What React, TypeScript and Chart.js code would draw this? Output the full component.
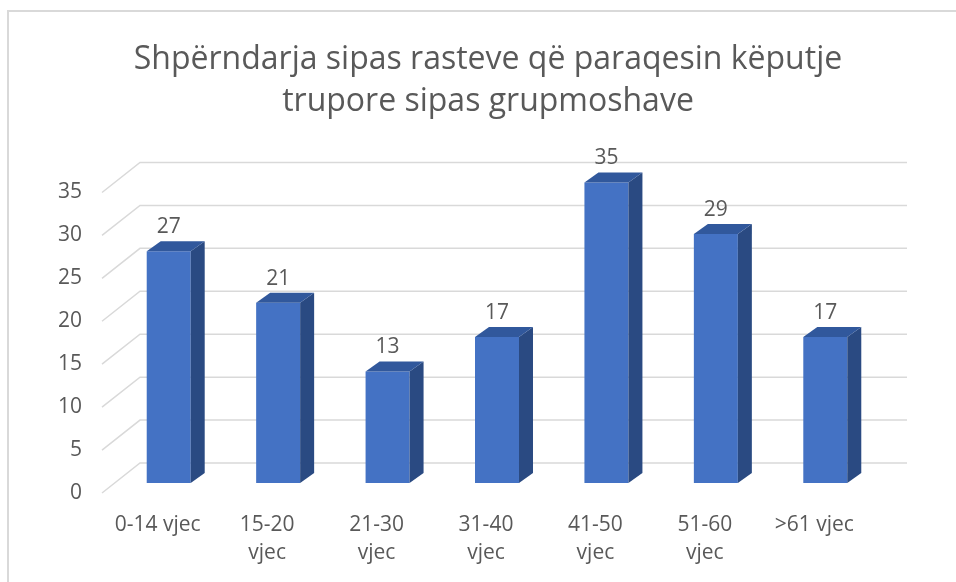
import React, { useEffect, useRef } from "react";
import { Chart, registerables } from "chart.js";

Chart.register(...registerables);

const TITLE_LINES = ["Shpërndarja sipas rasteve që paraqesin këputje", "trupore sipas grupmoshave"];
const CATEGORIES: (string | string[])[] = [
  "0-14 vjec",
  ["15-20", "vjec"],
  ["21-30", "vjec"],
  ["31-40", "vjec"],
  ["41-50", "vjec"],
  ["51-60", "vjec"],
  ">61 vjec",
];
const VALUES = [27, 21, 13, 17, 35, 29, 17];
const Y_MIN = 0;
const Y_MAX = 35;
const Y_STEP = 5;

const FONT = "'Open Sans', 'Noto Sans', sans-serif";
const TEXT = "#595959";
const GRID = "#d9d9d9";
const FRONT = "#4472c4";
const SIDE = "#2a4a82";
const TOP = "#31589c";
const DEPTH_X = 14;
const DEPTH_Y = 10;

const threeD = {
  id: "threeD",
  beforeDraw(chart: any) {
    const ctx = chart.ctx;
    ctx.save();
    ctx.strokeStyle = GRID;
    ctx.lineWidth = 2;
    ctx.beginPath();
    ctx.moveTo(8, 582);
    ctx.lineTo(8, 11);
    ctx.lineTo(956, 11);
    ctx.stroke();
    ctx.restore();
  },
  beforeDatasetsDraw(chart: any) {
    const ctx = chart.ctx;
    const y = chart.scales.y;
    const area = chart.chartArea;
    ctx.save();
    ctx.strokeStyle = GRID;
    ctx.lineWidth = 1.5;
    y.ticks.forEach((t: any) => {
      const py = y.getPixelForValue(t.value);
      ctx.beginPath();
      ctx.moveTo(area.left - 12, py + 10);
      ctx.lineTo(area.left + 26, py - 20);
      ctx.lineTo(area.right + 27, py - 20);
      ctx.stroke();
    });
    ctx.restore();
  },
  afterDatasetsDraw(chart: any) {
    const ctx = chart.ctx;
    const meta = chart.getDatasetMeta(0);
    const data = chart.data.datasets[0].data;
    ctx.save();
    meta.data.forEach((bar: any, i: number) => {
      const { x, y, base, width } = bar.getProps(["x", "y", "base", "width"], true);
      const l = x - width / 2;
      const r = x + width / 2;
      ctx.fillStyle = SIDE;
      ctx.beginPath();
      ctx.moveTo(r, y);
      ctx.lineTo(r + DEPTH_X, y - DEPTH_Y);
      ctx.lineTo(r + DEPTH_X, base - DEPTH_Y);
      ctx.lineTo(r, base);
      ctx.closePath();
      ctx.fill();
      ctx.fillStyle = TOP;
      ctx.beginPath();
      ctx.moveTo(l, y);
      ctx.lineTo(l + DEPTH_X, y - DEPTH_Y);
      ctx.lineTo(r + DEPTH_X, y - DEPTH_Y);
      ctx.lineTo(r, y);
      ctx.closePath();
      ctx.fill();
      ctx.fillStyle = TEXT;
      ctx.font = `21px ${FONT}`;
      ctx.textAlign = "center";
      ctx.textBaseline = "middle";
      ctx.fillText(String(data[i]), x, y - 24);
    });
    ctx.restore();
  },
};

export default function App() {
  const ref = useRef<HTMLCanvasElement>(null);
  useEffect(() => {
    if (!ref.current) return;
    const chart = new Chart(ref.current, {
      type: "bar",
      data: {
        labels: CATEGORIES,
        datasets: [
          {
            data: VALUES,
            backgroundColor: FRONT,
            borderWidth: 0,
            barPercentage: 0.402,
            categoryPercentage: 1,
            clip: false as any,
          },
        ],
      },
      options: {
        responsive: false,
        animation: false,
        devicePixelRatio: 1,
        layout: { padding: { left: 20, right: 0, top: 0, bottom: 0 } },
        plugins: {
          legend: { display: false },
          tooltip: { enabled: false },
          title: {
            display: true,
            text: TITLE_LINES,
            color: TEXT,
            font: { family: FONT, size: 32, weight: "normal", lineHeight: 1.32 },
            padding: { top: 39, bottom: 59 },
          },
        },
        scales: {
          x: {
            grid: { display: false, drawTicks: false },
            border: { display: false },
            ticks: {
              color: TEXT,
              font: { family: FONT, size: 21, lineHeight: 1.33 },
              padding: 28,
              labelOffset: -11,
              maxRotation: 0,
              autoSkip: false,
            },
            afterFit: (s: any) => {
              s.height = 99;
            },
          },
          y: {
            min: Y_MIN,
            max: Y_MAX,
            grid: { display: false, drawTicks: false },
            border: { display: false },
            ticks: {
              stepSize: Y_STEP,
              color: TEXT,
              font: { family: FONT, size: 21 },
              padding: 32,
              labelOffset: 10,
            },
            afterFit: (s: any) => {
              s.width = 94;
            },
          },
          yRight: {
            type: "linear",
            position: "right",
            display: true,
            grid: { display: false, drawTicks: false },
            border: { display: false },
            ticks: { display: false },
            afterFit: (s: any) => {
              s.width = 76;
            },
          },
        },
      },
      plugins: [threeD],
    });
    return () => chart.destroy();
  }, []);
  return (
    <div style={{ position: "absolute", left: 0, top: 0, width: 956, height: 582, background: "#fff" }}>
      <canvas ref={ref} width={956} height={582} style={{ display: "block" }} />
    </div>
  );
}
